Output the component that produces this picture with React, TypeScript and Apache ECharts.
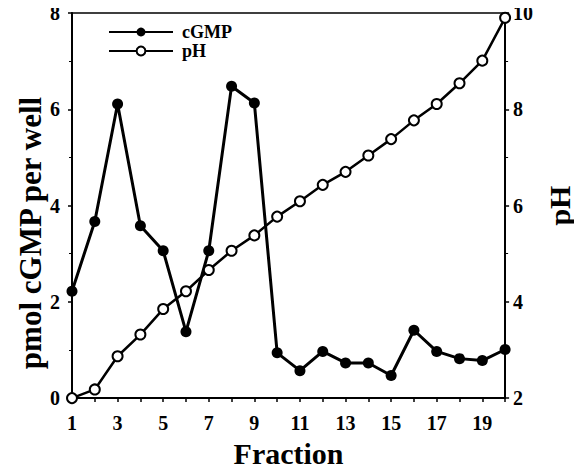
import React, { useEffect, useRef } from "react";
import * as echarts from "echarts";

const fractions = ["1","2","3","4","5","6","7","8","9","10","11","12","13","14","15","16","17","18","19","20"];
const cGMP = [2.22, 3.67, 6.11, 3.58, 3.06, 1.38, 3.06, 6.48, 6.13, 0.94, 0.57, 0.97, 0.73, 0.73, 0.47, 1.41, 0.97, 0.82, 0.78, 1.01];
const pH = [2.0, 2.18, 2.87, 3.32, 3.85, 4.22, 4.66, 5.06, 5.38, 5.77, 6.09, 6.43, 6.70, 7.04, 7.38, 7.77, 8.11, 8.54, 9.01, 9.9];
const leftTitle = "pmol cGMP per well";

const FONT = "'Liberation Serif', 'Times New Roman', serif";

export default function App() {
  const ref = useRef<HTMLDivElement>(null);
  useEffect(() => {
    if (!ref.current) return;
    const chart = echarts.init(ref.current, null, { renderer: "svg" });
    const axisLine = { show: true, lineStyle: { color: "#000", width: 2 } };
    const tick = { show: true, length: 4, lineStyle: { color: "#000", width: 1.5 } };
    const label = { color: "#000", fontFamily: FONT, fontWeight: "bold", fontSize: 20 };
    const nameStyle = { color: "#000", fontFamily: FONT, fontWeight: "bold", fontSize: 30 };
    chart.setOption({
      animation: false,
      backgroundColor: "#fff",
      grid: { left: 72, right: 64, top: 13, bottom: 65, show: true, borderColor: "#000", borderWidth: 1.5 },
      legend: {
        orient: "vertical",
        left: 103,
        top: 18,
        itemWidth: 64,
        itemHeight: 11,
        itemGap: 1,
        textStyle: { color: "#000", fontFamily: FONT, fontWeight: "bold", fontSize: 18, padding: [0, 0, 0, 4] },
        data: ["cGMP", "pH"],
      },
      graphic: [
        {
          type: "text",
          x: 30,
          y: 233,
          rotation: Math.PI / 2,
          style: {
            text: leftTitle,
            font: "bold 31px " + FONT,
            fill: "#000",
            align: "center",
            verticalAlign: "middle",
            textAlign: "center",
            textVerticalAlign: "middle",
          },
        },
      ],
      xAxis: {
        type: "category",
        data: fractions,
        boundaryGap: false,
        name: "Fraction",
        nameLocation: "middle",
        nameGap: 36,
        nameTextStyle: nameStyle,
        axisLine,
        axisTick: { ...tick, interval: 0 },
        axisLabel: { ...label, interval: 1, margin: 15 },
        splitLine: { show: false },
      },
      yAxis: [
        {
          type: "value",
          min: 0,
          max: 8,
          interval: 2,
          axisLine,
          axisTick: tick,
          minorTick: { show: true, splitNumber: 2, length: 3, lineStyle: { color: "#000", width: 1 } },
          axisLabel: { ...label, margin: 12 },
          splitLine: { show: false },
        },
        {
          type: "value",
          min: 2,
          max: 10,
          interval: 2,
          position: "right",
          name: "pH",
          nameLocation: "middle",
          nameRotate: 90,
          nameGap: 32,
          nameTextStyle: nameStyle,
          axisLine,
          axisTick: tick,
          minorTick: { show: true, splitNumber: 2, length: 3, lineStyle: { color: "#000", width: 1 } },
          axisLabel: { ...label, margin: 8 },
          splitLine: { show: false },
        },
      ],
      series: [
        {
          name: "cGMP",
          type: "line",
          yAxisIndex: 0,
          data: cGMP,
          symbol: "circle",
          symbolSize: 11,
          lineStyle: { color: "#000", width: 3 },
          itemStyle: { color: "#000" },
          z: 2,
        },
        {
          name: "pH",
          type: "line",
          yAxisIndex: 1,
          data: pH,
          symbol: "emptyCircle",
          symbolSize: 10,
          lineStyle: { color: "#000", width: 2.5 },
          itemStyle: { color: "#000", borderColor: "#000", borderWidth: 1.5 },
          z: 3,
        },
      ],
    });
    return () => chart.dispose();
  }, []);
  return <div ref={ref} style={{ width: 582, height: 473, margin: -8 }} />;
}
